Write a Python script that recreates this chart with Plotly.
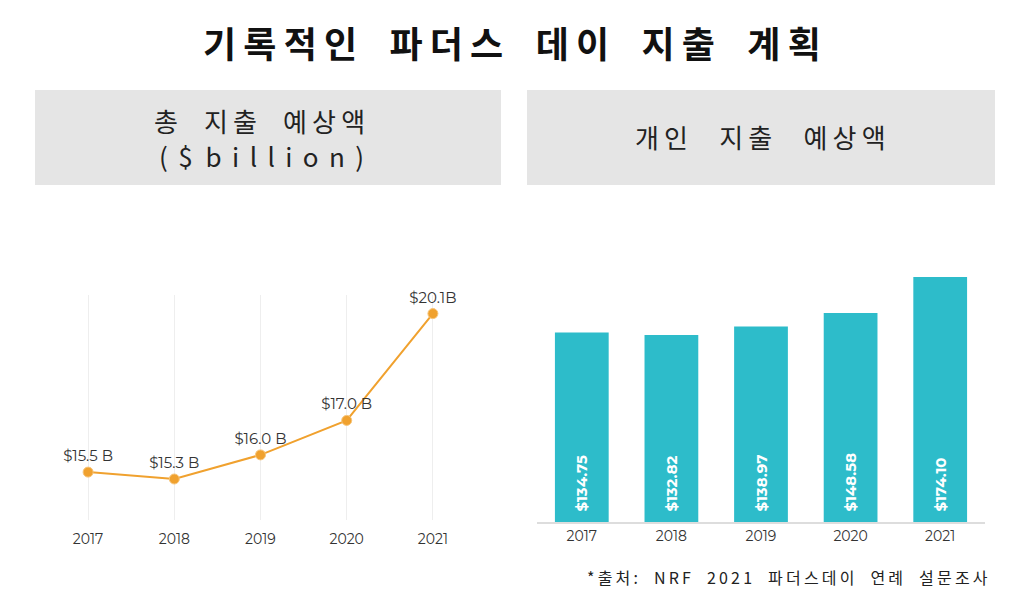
import plotly.graph_objects as go

years = ["2017", "2018", "2019", "2020", "2021"]
total_spend = [15.5, 15.3, 16.0, 17.0, 20.1]
total_labels = ["$15.5 B", "$15.3 B", "$16.0 B", "$17.0 B", "$20.1B"]
per_person = [134.75, 132.82, 138.97, 148.58, 174.10]
per_person_labels = ["$134.75", "$132.82", "$138.97", "$148.58", "$174.10"]

title_text = "기록적인 파더스 데이 지출 계획"
left_head = ["총 지출 예상액", "($ billion)"]
right_head = "개인 지출 예상액"
source_text = "*출처: NRF 2021 파더스데이 연례 설문조사"

W, H = 1024, 598
KR = "Noto Sans CJK KR"
LAB = "Montserrat, Open Sans, sans-serif"


def spaced(s, gap="\u200a", word="\u2002\u2002"):
    out = []
    for w in s.split(" "):
        out.append(gap.join(list(w)))
    return word.join(out)


def px_x(p):
    return p / W


def px_y(p):
    return (H - p) / H


fig = go.Figure()

fig.add_trace(go.Scatter(
    x=years, y=total_spend, mode="lines+markers+text",
    text=total_labels, textposition="top center",
    textfont=dict(family=LAB, size=15, color="#333333"),
    line=dict(color="#F0A12E", width=2),
    marker=dict(color="#F0A12E", size=10, line=dict(color="#F7C57A", width=1)),
    cliponaxis=False, xaxis="x", yaxis="y", showlegend=False,
))

fig.add_trace(go.Bar(
    x=years, y=per_person, text=["\u2002" + t for t in per_person_labels],
    textposition="inside", insidetextanchor="start", textangle=-90,
    textfont=dict(family=LAB, size=15, color="white", weight="bold"),
    marker=dict(color="#2DBCCA", line=dict(width=0)),
    xaxis="x2", yaxis="y2", showlegend=False,
))

axis_tick_font = dict(family=LAB, size=14, color="#333333")

fig.update_layout(
    width=W, height=H, margin=dict(l=0, r=0, t=0, b=0),
    paper_bgcolor="white", plot_bgcolor="white",
    bargap=0.4,
    xaxis=dict(domain=[px_x(45), px_x(476)], range=[-0.5, 4.5], type="category",
               showgrid=True, gridcolor="#eeeeee", gridwidth=1, zeroline=False,
               showline=False, ticks="outside", ticklen=6, tickcolor="rgba(0,0,0,0)",
               tickfont=axis_tick_font, fixedrange=True),
    yaxis=dict(domain=[px_y(520), px_y(295)], range=[14.11, 20.64],
               showgrid=False, zeroline=False, showticklabels=False, fixedrange=True),
    xaxis2=dict(domain=[px_x(537), px_x(985)], range=[-0.5, 4.5], type="category",
                anchor="y2", showgrid=False, zeroline=False,
                showline=True, linecolor="#dddddd", linewidth=2,
                ticks="", tickfont=axis_tick_font, fixedrange=True),
    yaxis2=dict(domain=[px_y(522), px_y(260)], range=[0, 186.2], anchor="x2",
                showgrid=False, zeroline=False, showticklabels=False, fixedrange=True),
    shapes=[
        dict(type="rect", xref="paper", yref="paper",
             x0=px_x(35), x1=px_x(501), y0=px_y(185), y1=px_y(90),
             fillcolor="#e5e5e5", line=dict(width=0), layer="below"),
        dict(type="rect", xref="paper", yref="paper",
             x0=px_x(527), x1=px_x(995), y0=px_y(185), y1=px_y(90),
             fillcolor="#e5e5e5", line=dict(width=0), layer="below"),
    ],
    annotations=[
        dict(text="<b>" + spaced(title_text, gap="\u2009", word="\u2002\u2009\u2009") + "</b>",
             x=px_x(512), y=px_y(42), xref="paper", yref="paper",
             xanchor="center", yanchor="middle", showarrow=False,
             font=dict(family=KR, size=36, color="#111111")),
        dict(text=spaced(left_head[0], gap="\u2009", word="\u2002\u2002"), x=px_x(259), y=px_y(121),
             xref="paper", yref="paper", xanchor="center", yanchor="middle",
             showarrow=False, font=dict(family=KR, size=26, color="#222222")),
        dict(text=spaced(left_head[1], gap="\u2009\u2009", word="\u2002"), x=px_x(261), y=px_y(155),
             xref="paper", yref="paper", xanchor="center", yanchor="middle",
             showarrow=False, font=dict(family=KR, size=26, color="#222222")),
        dict(text=spaced(right_head, gap="\u2009", word="\u2002\u2002\u2009"), x=px_x(760), y=px_y(137),
             xref="paper", yref="paper", xanchor="center", yanchor="middle",
             showarrow=False, font=dict(family=KR, size=26, color="#222222")),
        dict(text=spaced(source_text, gap="\u2009", word="\u2003"), x=px_x(990), y=px_y(577),
             xref="paper", yref="paper", xanchor="right", yanchor="middle",
             showarrow=False, font=dict(family=KR, size=16, color="#222222")),
    ],
)

fig.write_html("out.html")
